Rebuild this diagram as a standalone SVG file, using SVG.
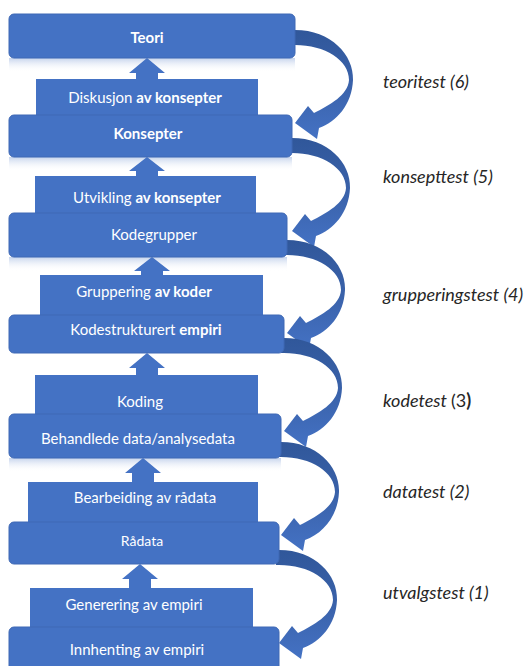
<svg xmlns="http://www.w3.org/2000/svg" xmlns:xlink="http://www.w3.org/1999/xlink" width="530" height="666" viewBox="0 0 530 666">
<style>
.box{fill:#4472C4;stroke:#3F69B5;stroke-width:1}
.mid{fill:#4472C4}
.t{font-family:Lato,"Liberation Sans",sans-serif;font-size:15px;fill:#ffffff;text-anchor:middle}
.b{font-weight:bold}
.lbl{font-family:Lato,"Liberation Sans",sans-serif;font-size:18px;fill:#262626;font-style:italic}
.up{fill:#4472C4}
</style>
<defs>
<linearGradient id="cg" x1="0" y1="0" x2="0" y2="1">
<stop offset="0" stop-color="#30579A"/>
<stop offset="0.5" stop-color="#3A62AA"/>
<stop offset="1" stop-color="#4472C4"/>
</linearGradient>
<linearGradient id="refl" x1="0" y1="0" x2="0" y2="1">
<stop offset="0" stop-color="#C5D3EC"/>
<stop offset="1" stop-color="#FFFFFF" stop-opacity="0"/>
</linearGradient>
<path id="curved" fill="url(#cg)" d="M -3,0 L 0,0 C 36,0 59,25 58,50 C 57,75 41,92 24,98 L 22,109 L 0,93 L 13,76 L 19,83 C 35,75 53,65 54,50 C 54,30 30,15 0,15 L -3,15 Z"/>
</defs>
<g id="reflections">
<rect x="9" y="58" width="286" height="14" fill="url(#refl)"/>
<rect x="9" y="157" width="283" height="14" fill="url(#refl)"/>
<rect x="9" y="257" width="278" height="14" fill="url(#refl)"/>
<rect x="9" y="458" width="272" height="14" fill="url(#refl)"/>
</g>
<g id="connectors">
<use xlink:href="#curved" transform="translate(295,30)"/>
<use xlink:href="#curved" transform="translate(292,138)"/>
<use xlink:href="#curved" transform="translate(287,240)"/>
<use xlink:href="#curved" transform="translate(284,338)"/>
<use xlink:href="#curved" transform="translate(281,442)"/>
<use xlink:href="#curved" transform="translate(279,550)"/>
<path class="up" d="M147,58 L165,73 L158,73 L158,80 L136,80 L136,73 L129,73 Z"/>
<path class="up" d="M147,157 L165,171 L158,171 L158,177 L136,177 L136,171 L129,171 Z"/>
<path class="up" d="M152,257 L170,271 L163,271 L163,276 L141,276 L141,271 L134,271 Z"/>
<path class="up" d="M147,353 L165,368 L158,368 L158,376 L136,376 L136,368 L129,368 Z"/>
<path class="up" d="M143,458 L161,473 L154,473 L154,483 L132,483 L132,473 L125,473 Z"/>
<path class="up" d="M140,564 L158,579 L151,579 L151,589 L129,589 L129,579 L122,579 Z"/>
</g>
<g id="teori"><rect class="box" x="9" y="14" width="286" height="44" rx="5"/><text class="t b" x="147" y="43">Teori</text></g>
<g id="diskusjon"><rect class="mid" x="36" y="79" width="222" height="36"/><text class="t" x="145" y="103">Diskusjon <tspan class="b">av konsepter</tspan></text></g>
<g id="konsepter"><rect class="box" x="9" y="115" width="283" height="42" rx="5"/><text class="t b" x="148" y="139">Konsepter</text></g>
<g id="utvikling"><rect class="mid" x="35" y="176" width="221" height="37"/><text class="t" x="147" y="203">Utvikling <tspan class="b">av konsepter</tspan></text></g>
<g id="kodegrupper"><rect class="box" x="9" y="213" width="278" height="44" rx="5"/><text class="t" x="154" y="240">Kodegrupper</text></g>
<g id="gruppering"><rect class="mid" x="40" y="275" width="223" height="40"/><text class="t" x="144" y="297">Gruppering <tspan class="b">av koder</tspan></text></g>
<g id="kodestrukturert"><rect class="box" x="9" y="315" width="275" height="38" rx="5"/><text class="t" x="146" y="335">Kodestrukturert <tspan class="b">empiri</tspan></text></g>
<g id="koding"><rect class="mid" x="35" y="375" width="223" height="39"/><text class="t" x="140" y="407">Koding</text></g>
<g id="behandlede"><rect class="box" x="9" y="414" width="272" height="44" rx="5"/><text class="t" x="138" y="444">Behandlede data/analysedata</text></g>
<g id="bearbeiding"><rect class="mid" x="28" y="482" width="230" height="40"/><text class="t" x="145" y="503">Bearbeiding av rådata</text></g>
<g id="radata"><rect class="box" x="9" y="522" width="270" height="42" rx="5"/><text class="t" x="142" y="546" style="font-size:14px">Rådata</text></g>
<g id="generering"><rect class="mid" x="30" y="588" width="223" height="39"/><text class="t" x="134" y="610">Generering av empiri</text></g>
<g id="innhenting"><rect class="box" x="9" y="627" width="270" height="48" rx="5"/><text class="t" x="137" y="655">Innhenting av empiri</text></g>
<g id="labels">
<text class="lbl" x="383" y="88">teoritest (6)</text>
<text class="lbl" x="383" y="183">konsepttest (5)</text>
<text class="lbl" x="383" y="301">grupperingstest (4)</text>
<text class="lbl" x="383" y="407">kodetest <tspan style="font-style:normal">(3</tspan><tspan style="font-style:normal;font-weight:bold">)</tspan></text>
<text class="lbl" x="383" y="498">datatest (2)</text>
<text class="lbl" x="383" y="599">utvalgstest (1)</text>
</g>
</svg>
